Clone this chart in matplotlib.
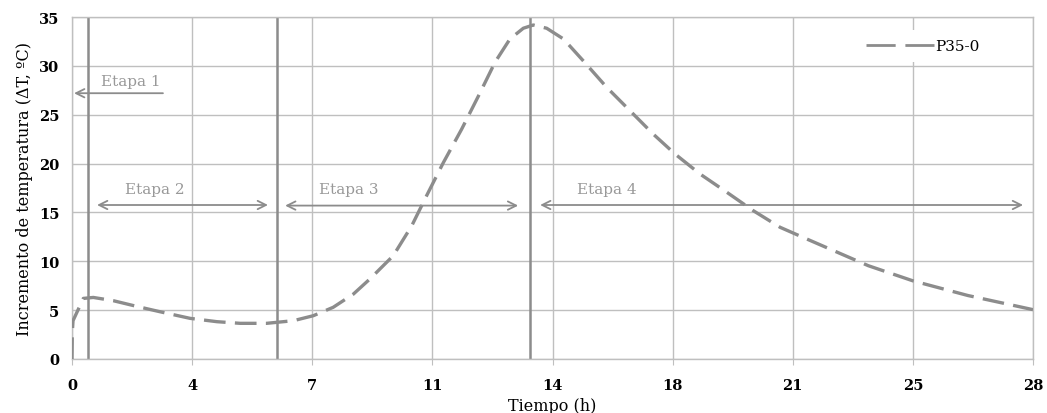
import matplotlib
matplotlib.use("Agg")
import matplotlib.pyplot as plt
from matplotlib.lines import Line2D

# Data
time_h = [0, 0.01, 0.03, 0.33, 0.62, 1.2, 1.88, 2.56, 3.44, 4.22, 4.9, 5.67, 6.45,
          7.03, 7.61, 8.2, 8.68, 9.36, 9.9, 10.33, 10.82, 11.35, 11.84, 12.33, 12.76,
          13.15, 13.44, 13.83, 14.32, 14.9, 15.58, 16.26, 16.94, 17.57, 18.3, 19.08,
          19.85, 20.63, 21.41, 23.2, 24.5, 26.1, 28]
delta_t = [0, 2.8, 3.92, 6.2, 6.3, 5.97, 5.39, 4.84, 4.16, 3.82, 3.65, 3.65, 3.92,
           4.43, 5.29, 6.65, 8.19, 10.57, 13.64, 16.7, 20.1, 23.5, 26.9, 30.4, 32.75,
           33.85, 34.18, 33.85, 32.75, 30.5, 27.8, 25.4, 23.0, 20.98, 18.93, 17.06,
           15.18, 13.48, 12.28, 9.55, 8.0, 6.5, 5.05]
series_name = "P35-0"
stage_bounds = [0.47, 5.97, 13.35]
x_ticks = [0, 3.5, 7, 10.5, 14, 17.5, 21, 24.5, 28]
x_tick_labels = ["0", "4", "7", "11", "14", "18", "21", "25", "28"]
y_ticks = [0, 5, 10, 15, 20, 25, 30, 35]

SERIF = ["DejaVu Serif"]
GRID = "#bfbfbf"
DARK = "#8c8c8c"

fig = plt.figure(figsize=(10.47, 4.14), dpi=100)
ax = fig.add_axes([72/1047, 1-360/414, (1033-72)/1047, (360-18)/414])
ax.set_xlim(0, 28)
ax.set_ylim(0, 35)

ax.set_xticks(x_ticks)
ax.set_xticklabels(x_tick_labels, family=SERIF, fontsize=10.5, fontweight="bold")
ax.set_yticks(y_ticks)
ax.set_yticklabels([str(v) for v in y_ticks], family=SERIF, fontsize=10.5, fontweight="bold")
ax.tick_params(axis="x", length=4, color=GRID, pad=10)
ax.tick_params(axis="y", length=0, pad=9)
ax.grid(True, color=GRID, linewidth=1.0)
ax.set_axisbelow(True)
for s in ax.spines.values():
    s.set_color(GRID)
    s.set_linewidth(1.0)

for xb in stage_bounds:
    ax.axvline(xb, color=DARK, linewidth=1.8, zorder=2)

line, = ax.plot(time_h, delta_t, color=DARK, linewidth=2.4, zorder=3,
                dashes=(6.5, 2.8), solid_capstyle="round", dash_capstyle="butt")

handle = Line2D([0], [0], color=DARK, linewidth=2.0, dashes=(10.5, 3.5))
leg = ax.legend([handle], [series_name], loc="upper right",
                bbox_to_anchor=(0.962, 0.985), handlelength=4.45, handletextpad=0.1,
                prop={"family": SERIF, "size": 11}, frameon=True, borderpad=0.6)
leg.get_frame().set_edgecolor("none")
leg.get_frame().set_facecolor("white")
leg.get_frame().set_alpha(1)

TXT = "#999999"
arrow_kw = dict(color=DARK, lw=1.3, shrinkA=0, shrinkB=0)
ax.annotate("", xy=(0.06, 27.2), xytext=(2.65, 27.2),
            arrowprops=dict(arrowstyle="->,head_length=0.6,head_width=0.3", **arrow_kw))
ax.text(1.72, 28.4, "Etapa 1", ha="center", va="center", color=TXT, family=SERIF, fontsize=11)

for (x0, x1, yv) in [(0.73, 5.71, 15.76), (6.21, 13.0, 15.7), (13.64, 27.71, 15.76)]:
    ax.annotate("", xy=(x1, yv), xytext=(x0, yv),
                arrowprops=dict(arrowstyle="<->,head_length=0.6,head_width=0.3", **arrow_kw))
ax.text(2.42, 17.4, "Etapa 2", ha="center", va="center", color=TXT, family=SERIF, fontsize=11)
ax.text(8.07, 17.4, "Etapa 3", ha="center", va="center", color=TXT, family=SERIF, fontsize=11)
ax.text(15.59, 17.4, "Etapa 4", ha="center", va="center", color=TXT, family=SERIF, fontsize=11)

ax.set_xlabel("Tiempo (h)", family=SERIF, fontsize=11.5, labelpad=3)
ax.set_ylabel("Incremento de temperatura (ΔT, ºC)", family=SERIF, fontsize=11.5, labelpad=4)

fig.savefig("out.png", dpi=100)
